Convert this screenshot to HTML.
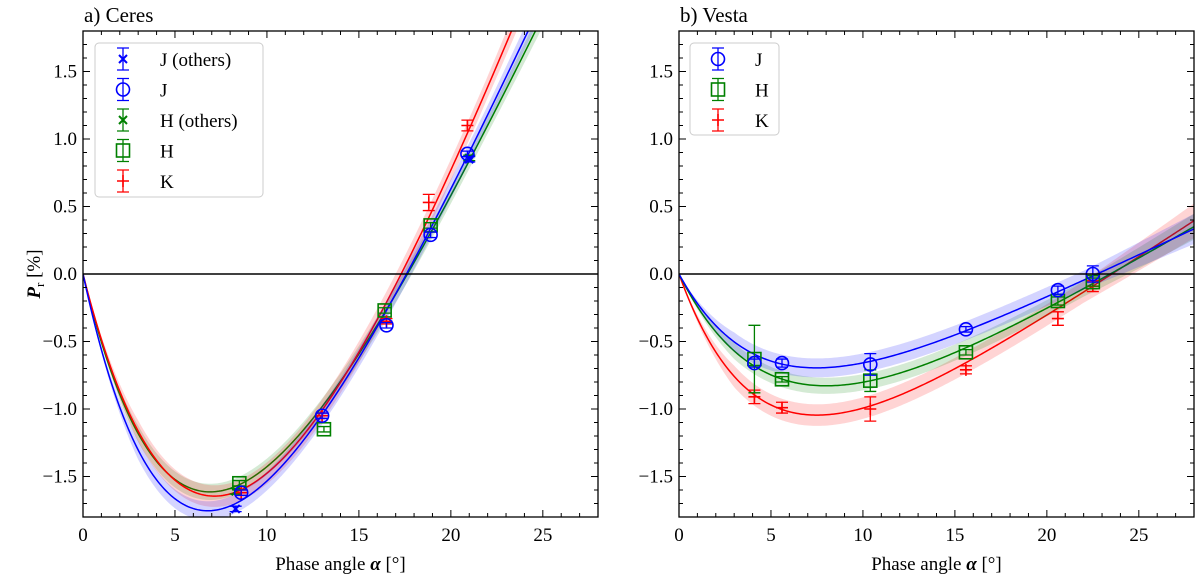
<!DOCTYPE html>
<html><head><meta charset="utf-8"><style>
html,body{margin:0;padding:0;background:#fff;}
svg{display:block;font-family:"Liberation Serif",serif;}
</style></head><body>
<svg id="fig" width="1200" height="576" viewBox="0 0 1200 576"></svg>
<script>
// ---- data ----
const xTicks=[0,5,10,15,20,25];
const yTicks=[-1.5,-1.0,-0.5,0.0,0.5,1.0,1.5];
const yTickLabels=["\u22121.5","\u22121.0","\u22120.5","0.0","0.5","1.0","1.5"];
// model fit parameters [A,B,C]: P = A(exp(-a/B)-1)+C*a
const ceresFitJ=[5.62,6.0,0.3025];
const ceresFitH=[5.5,6.4,0.292];
const ceresFitK=[7.31,8.0,0.374];
const vestaFitJ=[1.49,4.75,0.065];
const vestaFitH=[1.9,5.4,0.08];
const vestaFitK=[2.13,4.55,0.09];
const bandWidth=[0.07,0.06,0.08];
// Ceres points
const cJoX=[8.3,21.0], cJoY=[-1.74,0.85], cJoE=[0.02,0.02];
const cJX=[8.6,13.0,16.5,18.9,20.9], cJY=[-1.62,-1.05,-0.38,0.29,0.89], cJE=[0.02,0.02,0.02,0.02,0.02];
const cHoX=[8.3,21.0], cHoY=[-1.61,0.86], cHoE=[0.02,0.02];
const cHX=[8.5,13.1,16.4,18.9], cHY=[-1.55,-1.15,-0.27,0.36], cHE=[0.02,0.02,0.02,0.02];
const cKX=[8.6,13.0,16.5,18.8,20.9], cKY=[-1.62,-1.05,-0.35,0.53,1.10], cKE=[0.02,0.02,0.02,0.06,0.04];
// Vesta points
const vX=[4.1,5.6,10.4,15.6,20.6,22.5];
const vJY=[-0.66,-0.66,-0.67,-0.41,-0.12,0.0], vJE=[0.03,0.03,0.08,0.02,0.03,0.06];
const vHY=[-0.63,-0.78,-0.79,-0.58,-0.2,-0.06], vHE=[0.25,0.02,0.08,0.02,0.03,0.03];
const vKY=[-0.91,-0.99,-1.0,-0.71,-0.33,-0.09], vKE=[0.05,0.04,0.09,0.03,0.05,0.04];

const NS="http://www.w3.org/2000/svg";
const svg=document.getElementById('fig');
function el(tag,attrs,parent){const e=document.createElementNS(NS,tag);for(const k in attrs)e.setAttribute(k,attrs[k]);(parent||svg).appendChild(e);return e;}
const BLUE="#0000ff",GREEN="#008000",RED="#ff0000";
function model(p,a){return p[0]*(Math.exp(-a/p[1])-1)+p[2]*a;}

function panel(x0,title,name){
  const W=515,T=31,B=517;
  const g=el('g',{});
  
  
  const sx=a=>x0+a/28*W, sy=v=>T+(1.8-v)/3.6*(B-T);
  const cp=el('clipPath',{id:'c'+name},g);el('rect',{x:x0,y:T,width:W,height:B-T},cp);
  const plot=el('g',{'clip-path':'url(#c'+name+')'},g);
  return {g,plot,sx,sy,x0,W,T,B};
}
function axesDecor(P,title){
  const {g,sx,sy,x0,W,T,B}=P;
  el('line',{x1:x0,x2:x0+W,y1:sy(0),y2:sy(0),stroke:'#000','stroke-width':1.5},P.plot);
  const fr=el('rect',{x:x0,y:T,width:W,height:B-T,fill:'none',stroke:'#000','stroke-width':1.3},g);
  
  for(let a=0;a<=28;a++){const maj=a%5==0,L=maj?7:4,x=sx(a);
    el('line',{x1:x,x2:x,y1:B,y2:B-L,stroke:'#000','stroke-width':1},g);
    el('line',{x1:x,x2:x,y1:T,y2:T+L,stroke:'#000','stroke-width':1},g);}
  xTicks.forEach(a=>{const t=el('text',{x:sx(a),y:B+24,'text-anchor':'middle','font-size':19},g);t.textContent=a;
    });
  for(let i=-18;i<=18;i++){const v=i/10,maj=i%5==0,L=maj?7:4,y=sy(v);
    el('line',{x1:x0,x2:x0+L,y1:y,y2:y,stroke:'#000','stroke-width':1},g);
    el('line',{x1:x0+W,x2:x0+W-L,y1:y,y2:y,stroke:'#000','stroke-width':1},g);}
  yTicks.forEach((v,i)=>{const t=el('text',{x:x0-6,y:sy(v)+6,'text-anchor':'end','font-size':19},g);t.textContent=yTickLabels[i];
    });
  const xl=el('text',{x:x0+W/2,y:B+53,'text-anchor':'middle','font-size':19},g);
  xl.innerHTML='Phase angle <tspan font-style="italic" font-weight="bold">α</tspan> [°]';
  
  const tt=el('text',{x:x0+1,y:T-9,'font-size':21},g);tt.textContent=title;
  
}
function curve(P,p,color,bw,name){
  let up=[],dn=[],ln=[];
  for(let i=0;i<=280;i++){const a=i/10,v=model(p,a),w=bw*Math.min(1,a/3)*(1+Math.max(0,a-22)/10);
    ln.push(P.sx(a)+','+P.sy(v));up.push(P.sx(a)+','+P.sy(v+w));dn.unshift(P.sx(a)+','+P.sy(v-w));}
  const b=el('polygon',{points:up.concat(dn).join(' '),fill:color,'fill-opacity':0.17,stroke:'none'},P.plot);
  
  const l=el('polyline',{points:ln.join(' '),fill:'none',stroke:color,'stroke-width':1.5},P.plot);
  
}
function marker(parent,x,y,type,color){
  if(type=='o')el('circle',{cx:x,cy:y,r:6.5,fill:'none',stroke:color,'stroke-width':1.6},parent);
  else if(type=='s')el('rect',{x:x-6.5,y:y-6.5,width:13,height:13,fill:'none',stroke:color,'stroke-width':1.6},parent);
  else if(type=='x'){el('path',{d:`M${x-4},${y-4}L${x+4},${y+4}M${x-4},${y+4}L${x+4},${y-4}`,stroke:color,'stroke-width':2},parent);}
  else if(type=='+'){el('path',{d:`M${x-6},${y}L${x+6},${y}M${x},${y-6}L${x},${y+6}`,stroke:color,'stroke-width':1.6},parent);}
}
function errbar(parent,x,y1,y2,color,w){
  el('path',{d:`M${x},${y1}L${x},${y2}M${x-w},${y1}L${x+w},${y1}M${x-w},${y2}L${x+w},${y2}`,stroke:color,'stroke-width':1.3,fill:'none'},parent);
}
function points(P,xs,ys,es,type,color,name){
  xs.forEach((a,i)=>{
    const g=el('g',{},P.plot);
    
    
    const x=P.sx(a);
    errbar(g,x,P.sy(ys[i]+es[i]),P.sy(ys[i]-es[i]),color,6);
    marker(g,x,P.sy(ys[i]),type,color);
  });
}
function legend(x,y,w,h,items){
  const g=el('g',{});
  
  
  el('rect',{x:x,y:y,width:w,height:h,rx:4,fill:'#fff','fill-opacity':0.85,stroke:'#ccc','stroke-width':1},g);
  items.forEach((it,i)=>{
    const e=el('g',{},g);
    
    
    const cy=y+16+i*30.5, mx=x+28;
    errbar(e,mx,cy-11,cy+11,it[2],6);
    marker(e,mx,cy,it[1],it[2]);
    const t=el('text',{x:x+65,y:cy+7,'font-size':19},e);t.textContent=it[0];
  });
}
// left panel
const L=panel(83,'a) Ceres','ceres-panel');
curve(L,ceresFitH,GREEN,bandWidth[1],'ceres-h');
curve(L,ceresFitK,RED,bandWidth[2],'ceres-k');
curve(L,ceresFitJ,BLUE,bandWidth[0],'ceres-j');
points(L,cHX,cHY,cHE,'s',GREEN,'ceres-h');
points(L,cHoX,cHoY,cHoE,'x',GREEN,'ceres-h-others');
points(L,cKX,cKY,cKE,'+',RED,'ceres-k');
points(L,cJX,cJY,cJE,'o',BLUE,'ceres-j');
points(L,cJoX,cJoY,cJoE,'x',BLUE,'ceres-j-others');
axesDecor(L,'a) Ceres');
legend(95,43,168,154,[['J (others)','x',BLUE],['J','o',BLUE],['H (others)','x',GREEN],['H','s',GREEN],['K','+',RED]]);
// right panel
const R=panel(679,'b) Vesta','vesta-panel');
curve(R,vestaFitK,RED,bandWidth[2],'vesta-k');
curve(R,vestaFitH,GREEN,bandWidth[1],'vesta-h');
curve(R,vestaFitJ,BLUE,bandWidth[0],'vesta-j');
points(R,vX,vKY,vKE,'+',RED,'vesta-k');
points(R,vX,vHY,vHE,'s',GREEN,'vesta-h');
points(R,vX,vJY,vJE,'o',BLUE,'vesta-j');
axesDecor(R,'b) Vesta');
legend(690,43,89,92,[['J','o',BLUE],['H','s',GREEN],['K','+',RED]]);
// y label
const yl=el('text',{transform:'translate(40,274) rotate(-90)','text-anchor':'middle','font-size':19});
yl.innerHTML='<tspan font-style="italic" font-weight="bold">P</tspan><tspan font-size="13" dy="4">r</tspan><tspan dy="-4"> [%]</tspan>';


</script>
</body></html>
